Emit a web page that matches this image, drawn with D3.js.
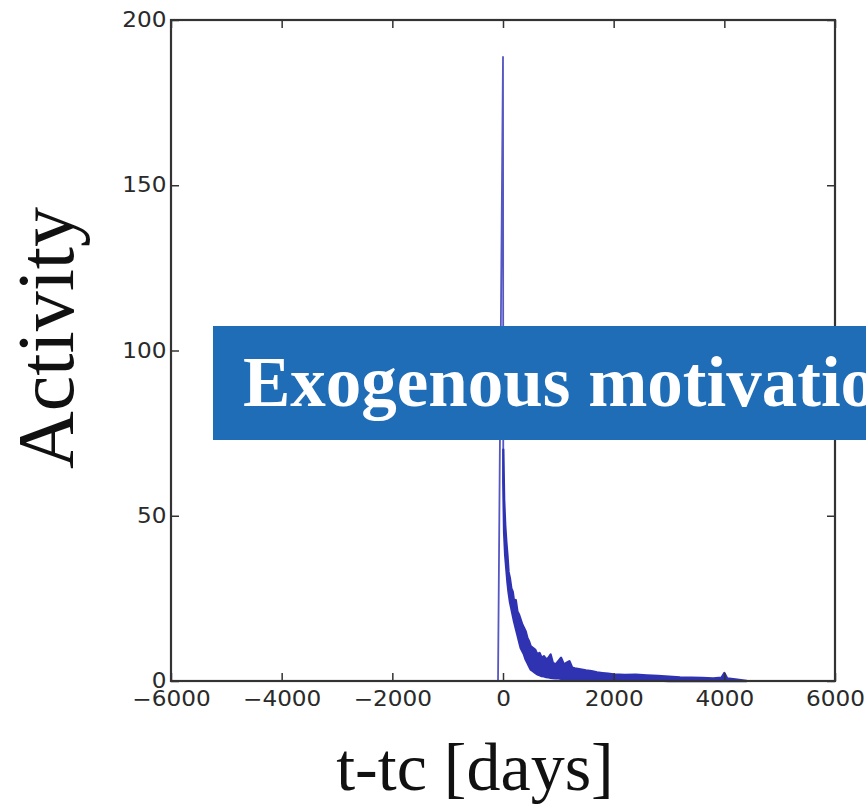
<!DOCTYPE html>
<html>
<head>
<meta charset="utf-8">
<script src="https://cdn.jsdelivr.net/npm/d3@7"></script>
<style>
  html, body { margin: 0; padding: 0; background: #fff; }
  svg { display: block; }
</style>
</head>
<body>
<svg id="chart" width="866" height="804"></svg>
<script>
// Activity around the critical time tc (days)
const xTicks = [-6000, -4000, -2000, 0, 2000, 4000, 6000];
const yTicks = [0, 50, 100, 150, 200];

// Sharp burst at t = tc
const spikeDays   = [-90, 0, 5];
const spikeValues = [0, 189, 70];

// Noisy relaxation after the burst: upper and lower edges of the fluctuating series
const decayDays  = [5, 20, 40, 60, 80, 100, 125, 150, 175, 200, 230, 260, 290, 320, 350, 380, 410, 440, 470, 500,
                    540, 580, 620, 660, 700, 740, 780, 820, 860, 900, 950, 1000, 1050, 1100, 1150, 1200, 1250, 1300,
                    1400, 1500, 1600, 1700, 1800, 1900, 2000, 2200, 2400, 2600, 2800, 3000, 3200, 3400, 3600, 3800,
                    3950, 4000, 4050, 4200, 4400];
const decayUpper = [70, 55, 47, 42, 38, 33, 31, 28, 27, 24, 24.5, 21, 20, 18.5, 17, 16, 15, 13, 12, 10.5,
                    10, 9.5, 8, 8.5, 7, 7.5, 6.5, 7, 8, 5.5, 5, 6, 7, 5, 5.5, 6, 4, 3.8,
                    3.5, 3.2, 3, 2.6, 2.4, 2.2, 2, 1.8, 1.9, 1.7, 1.5, 1.3, 1.1, 1.0, 0.9, 0.8,
                    1.0, 2.4, 0.8, 0.5, 0];
const decayLower = [60, 45, 38, 34, 30, 27, 24, 22, 20, 18, 16, 14, 12, 10, 9, 8, 6.5, 5.5, 4.5, 3.5,
                    3, 2.5, 2, 1.8, 1.5, 1.4, 1.2, 1.1, 1, 0.9, 0.8, 0.8, 0.7, 0.7, 0.6, 0.6, 0.5, 0.5,
                    0.4, 0.4, 0.3, 0.3, 0.3, 0.2, 0.2, 0.2, 0.1, 0.1, 0.1, 0, 0, 0, 0, 0,
                    0, 0, 0, 0, 0];

const bannerText = "Exogenous motivation";
const xLabel = "t-tc [days]";
const yLabel = "Activity";

const svg = d3.select("#chart");
const m = { left: 171, right: 835, top: 20, bottom: 681 };

const x = d3.scaleLinear().domain([-6000, 6000]).range([m.left, m.right]);
const y = d3.scaleLinear().domain([0, 200]).range([m.bottom, m.top]);

const lineColor = "#2f33b2";

// Burst line
const spike = spikeDays.map((d, i) => [d, spikeValues[i]]);
svg.append("path")
  .datum(spike)
  .attr("d", d3.line().x(d => x(d[0])).y(d => y(d[1])))
  .attr("fill", "none")
  .attr("stroke", "#5557c2")
  .attr("stroke-width", 1.8);

// Fluctuating decay band
const decay = decayDays.map((d, i) => ({ t: d, hi: decayUpper[i], lo: decayLower[i] }));
svg.append("path")
  .datum(decay)
  .attr("d", d3.area().x(d => x(d.t)).y0(d => y(d.lo)).y1(d => y(d.hi)))
  .attr("fill", lineColor)
  .attr("stroke", lineColor)
  .attr("stroke-width", 2.4)
  .attr("stroke-linejoin", "round");

// Frame with inward ticks on all four sides
const tickLen = 8;
const frameColor = "#333";
const axisFont = "'DejaVu Sans', sans-serif";
const fmt = d3.format("d");

const bottomAxis = d3.axisBottom(x).tickValues(xTicks).tickFormat(fmt).tickSizeInner(-tickLen).tickSizeOuter(0).tickPadding(10);
const topAxis = d3.axisTop(x).tickValues(xTicks).tickSizeInner(-tickLen).tickSizeOuter(0).tickFormat("");
const leftAxis = d3.axisLeft(y).tickValues(yTicks).tickFormat(fmt).tickSizeInner(-tickLen).tickSizeOuter(0).tickPadding(4);
const rightAxis = d3.axisRight(y).tickValues(yTicks).tickSizeInner(-tickLen).tickSizeOuter(0).tickFormat("");

function styleAxis(g) {
  g.select(".domain").remove();
  g.selectAll(".tick line").attr("stroke", frameColor).attr("stroke-width", 1.5);
  g.selectAll(".tick text")
    .attr("fill", "#2a2a2a")
    .attr("transform", "scale(1.13,1)")
    .style("font-family", axisFont)
    .style("font-size", "20.5px");
}

svg.append("g").attr("transform", `translate(0,${m.bottom})`).call(bottomAxis).call(styleAxis);
svg.append("g").attr("transform", `translate(0,${m.top})`).call(topAxis).call(styleAxis);
svg.append("g").attr("transform", `translate(${m.left},0)`).call(leftAxis).call(styleAxis);
svg.append("g").attr("transform", `translate(${m.right},0)`).call(rightAxis).call(styleAxis);

svg.append("rect")
  .attr("x", m.left).attr("y", m.top)
  .attr("width", m.right - m.left).attr("height", m.bottom - m.top)
  .attr("fill", "none")
  .attr("stroke", frameColor)
  .attr("stroke-width", 2.2);

// Axis titles
svg.append("text")
  .attr("x", 475).attr("y", 790)
  .attr("text-anchor", "middle")
  .style("font-family", "'Liberation Serif', 'Times New Roman', serif")
  .style("font-size", "68px")
  .attr("fill", "#111")
  .text(xLabel);

svg.append("text")
  .attr("transform", "translate(73,338) rotate(-90)")
  .attr("text-anchor", "middle")
  .style("font-family", "'Liberation Serif', 'Times New Roman', serif")
  .style("font-size", "80px")
  .attr("fill", "#111")
  .text(yLabel);

// Banner overlay
svg.append("rect")
  .attr("x", 213).attr("y", 326)
  .attr("width", 700).attr("height", 114)
  .attr("fill", "#1f6db6");

svg.append("text")
  .attr("x", 243).attr("y", 406)
  .style("font-family", "'Liberation Serif', 'Times New Roman', serif")
  .style("font-size", "71px")
  .style("font-weight", "bold")
  .attr("fill", "#fff")
  .text(bannerText);
</script>
</body>
</html>
